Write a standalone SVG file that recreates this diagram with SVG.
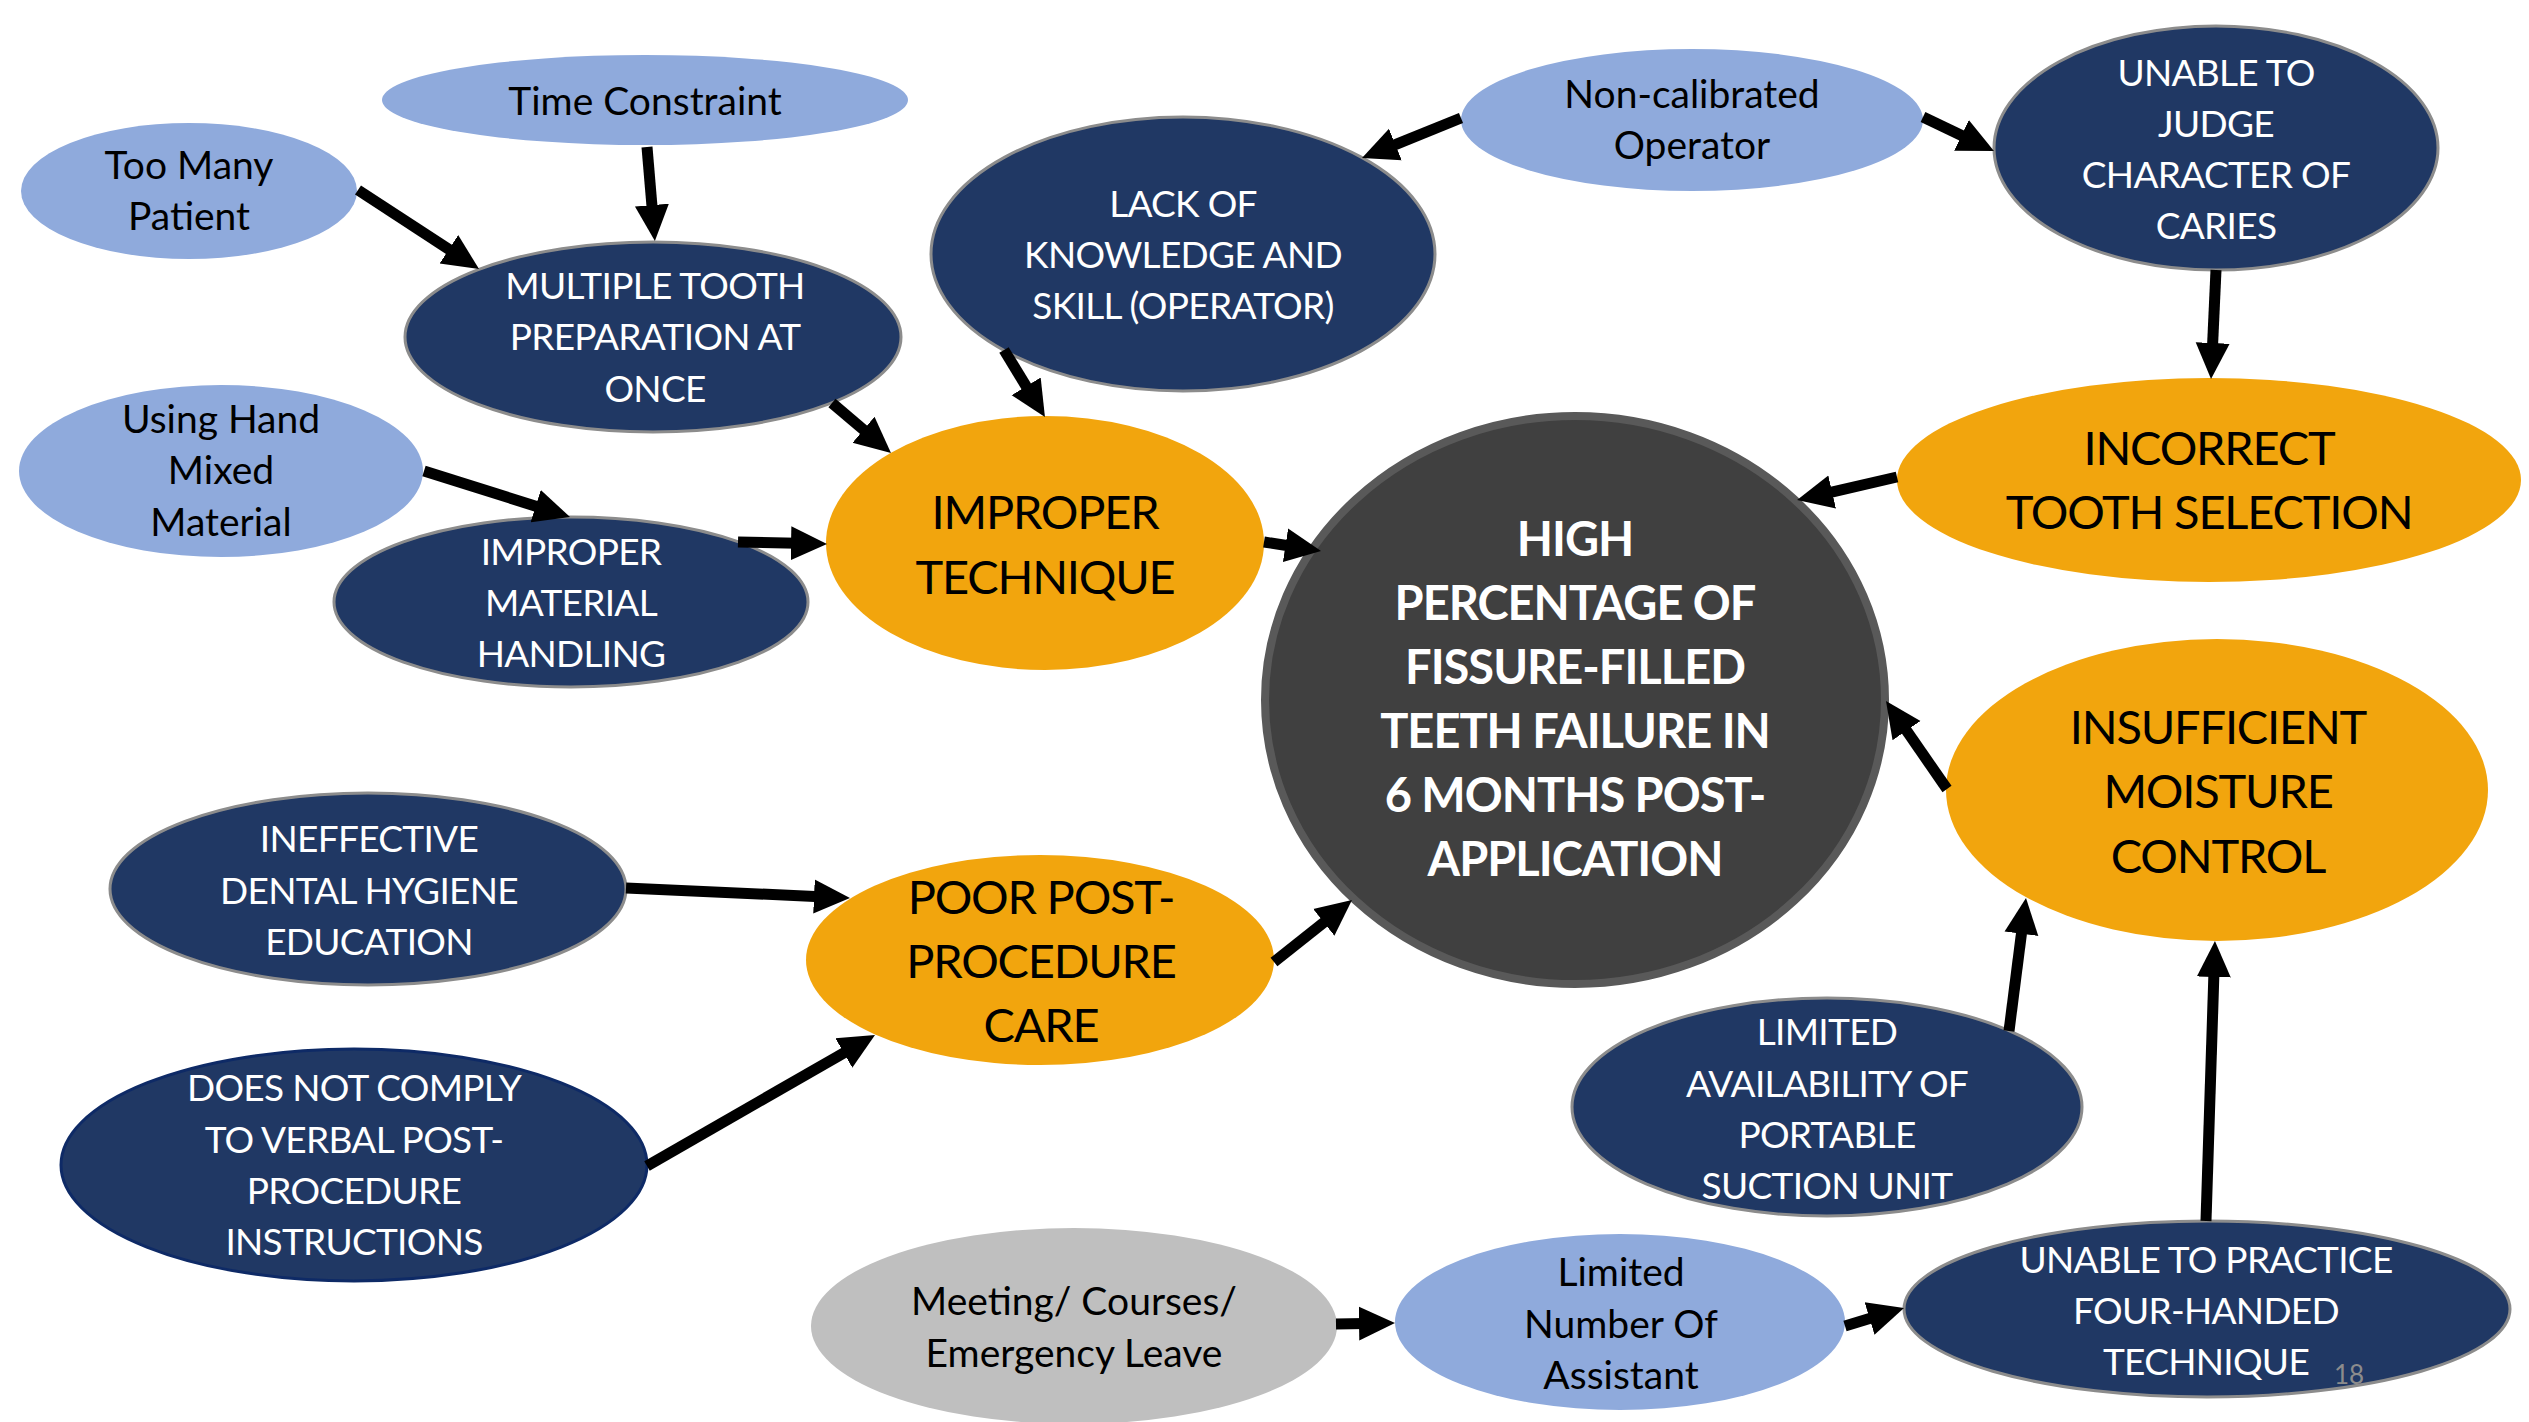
<svg xmlns="http://www.w3.org/2000/svg" width="2529" height="1422" viewBox="0 0 2529 1422">
  <defs>
    <marker id="head" viewBox="0 -18 36 36" markerWidth="36" markerHeight="36" refX="6" refY="0" orient="auto" markerUnits="userSpaceOnUse">
      <path d="M0,-17 L36,0 L0,17 Z" fill="#000"/>
    </marker>
  </defs>
  <style>
    text { font-family: Lato, "Open Sans", "Liberation Sans", sans-serif; text-anchor: middle; }
    .light { fill: #8FAADC; }
    .navy { fill: #203864; stroke: #8C8C8C; stroke-width: 3; }
    .orange { fill: #F2A50D; }
    .grey { fill: #BFBFBF; }
    .core { fill: #404040; stroke: #595959; stroke-width: 8; }
    .t-light { font-size: 39px; fill: #000; }
    .t-navy { font-size: 37px; letter-spacing: -0.7px; fill: #fff; }
    .t-orange { font-size: 47px; letter-spacing: -1.2px; fill: #000; }
    .t-core { font-size: 47px; letter-spacing: -1px; font-weight: bold; fill: #fff; }
    .arrows line { stroke: #000; stroke-width: 11; marker-end: url(#head); }
  </style>
  <rect width="2529" height="1422" fill="#fff"/>

  <!-- causes feeding IMPROPER TECHNIQUE -->
  <g id="time-constraint">
    <ellipse class="light" cx="645" cy="100" rx="263" ry="45"/>
    <text class="t-light" x="645" y="115">Time Constraint</text>
  </g>
  <g id="too-many-patient">
    <ellipse class="light" cx="189" cy="191" rx="168" ry="68"/>
    <text class="t-light" x="189" y="179">Too Many</text>
    <text class="t-light" x="189" y="230">Patient</text>
  </g>
  <g id="multiple-tooth">
    <ellipse class="navy" cx="653" cy="337" rx="248" ry="95"/>
    <text class="t-navy" x="655" y="299">MULTIPLE TOOTH</text>
    <text class="t-navy" x="655" y="350">PREPARATION AT</text>
    <text class="t-navy" x="655" y="402">ONCE</text>
  </g>
  <g id="hand-mixed">
    <ellipse class="light" cx="221" cy="471" rx="202" ry="86"/>
    <text class="t-light" x="221" y="433">Using Hand</text>
    <text class="t-light" x="221" y="484">Mixed</text>
    <text class="t-light" x="221" y="536">Material</text>
  </g>
  <g id="material-handling">
    <ellipse class="navy" cx="571" cy="602" rx="237" ry="85"/>
    <text class="t-navy" x="571" y="565">IMPROPER</text>
    <text class="t-navy" x="571" y="616">MATERIAL</text>
    <text class="t-navy" x="571" y="667">HANDLING</text>
  </g>
  <g id="improper-technique">
    <ellipse class="orange" cx="1045" cy="543" rx="219" ry="127"/>
    <text class="t-orange" x="1045" y="529">IMPROPER</text>
    <text class="t-orange" x="1045" y="594">TECHNIQUE</text>
  </g>
  <g id="lack-of-knowledge">
    <ellipse class="navy" cx="1183" cy="254" rx="252" ry="137"/>
    <text class="t-navy" x="1183" y="217">LACK OF</text>
    <text class="t-navy" x="1183" y="268">KNOWLEDGE AND</text>
    <text class="t-navy" x="1183" y="319">SKILL (OPERATOR)</text>
  </g>

  <!-- causes feeding INCORRECT TOOTH SELECTION -->
  <g id="non-calibrated">
    <ellipse class="light" cx="1692" cy="120" rx="231" ry="71"/>
    <text class="t-light" x="1692" y="108">Non-calibrated</text>
    <text class="t-light" x="1692" y="159">Operator</text>
  </g>
  <g id="unable-to-judge">
    <ellipse class="navy" cx="2216" cy="148" rx="222" ry="122"/>
    <text class="t-navy" x="2216" y="86">UNABLE TO</text>
    <text class="t-navy" x="2216" y="137">JUDGE</text>
    <text class="t-navy" x="2216" y="188">CHARACTER OF</text>
    <text class="t-navy" x="2216" y="239">CARIES</text>
  </g>
  <g id="incorrect-selection">
    <ellipse class="orange" cx="2209" cy="480" rx="312" ry="102"/>
    <text class="t-orange" x="2209" y="465">INCORRECT</text>
    <text class="t-orange" x="2209" y="529">TOOTH SELECTION</text>
  </g>

  <!-- central problem -->
  <g id="core-problem">
    <ellipse class="core" cx="1575" cy="700" rx="310" ry="284"/>
    <text class="t-core" x="1575" y="556">HIGH</text>
    <text class="t-core" x="1575" y="620">PERCENTAGE OF</text>
    <text class="t-core" x="1575" y="684">FISSURE-FILLED</text>
    <text class="t-core" x="1575" y="748">TEETH FAILURE IN</text>
    <text class="t-core" x="1575" y="812">6 MONTHS POST-</text>
    <text class="t-core" x="1575" y="876">APPLICATION</text>
  </g>

  <!-- causes feeding INSUFFICIENT MOISTURE CONTROL -->
  <g id="moisture-control">
    <ellipse class="orange" cx="2217" cy="790" rx="271" ry="151"/>
    <text class="t-orange" x="2218" y="744">INSUFFICIENT</text>
    <text class="t-orange" x="2218" y="808">MOISTURE</text>
    <text class="t-orange" x="2218" y="873">CONTROL</text>
  </g>
  <g id="suction-unit">
    <ellipse class="navy" cx="1827" cy="1107" rx="255" ry="109"/>
    <text class="t-navy" x="1827" y="1045">LIMITED</text>
    <text class="t-navy" x="1827" y="1097">AVAILABILITY OF</text>
    <text class="t-navy" x="1827" y="1148">PORTABLE</text>
    <text class="t-navy" x="1827" y="1199">SUCTION UNIT</text>
  </g>
  <g id="four-handed">
    <ellipse class="navy" cx="2207" cy="1309" rx="303" ry="88"/>
    <text class="t-navy" x="2206" y="1273">UNABLE TO PRACTICE</text>
    <text class="t-navy" x="2206" y="1324">FOUR-HANDED</text>
    <text class="t-navy" x="2206" y="1375">TECHNIQUE</text>
  </g>
  <g id="limited-assistant">
    <ellipse class="light" cx="1620" cy="1322" rx="225" ry="88"/>
    <text class="t-light" x="1621" y="1286">Limited</text>
    <text class="t-light" x="1621" y="1338">Number Of</text>
    <text class="t-light" x="1621" y="1389">Assistant</text>
  </g>
  <g id="meeting-leave">
    <ellipse class="grey" cx="1074" cy="1326" rx="263" ry="98"/>
    <text class="t-light" x="1074" y="1315">Meeting/ Courses/</text>
    <text class="t-light" x="1074" y="1367">Emergency Leave</text>
  </g>

  <!-- causes feeding POOR POST-PROCEDURE CARE -->
  <g id="hygiene-education">
    <ellipse class="navy" cx="368" cy="889" rx="258" ry="96"/>
    <text class="t-navy" x="369" y="852">INEFFECTIVE</text>
    <text class="t-navy" x="369" y="904">DENTAL HYGIENE</text>
    <text class="t-navy" x="369" y="955">EDUCATION</text>
  </g>
  <g id="not-comply">
    <ellipse cx="354" cy="1165" rx="293" ry="116" fill="#203864" stroke="#0E2A66" stroke-width="3"/>
    <text class="t-navy" x="354" y="1101">DOES NOT COMPLY</text>
    <text class="t-navy" x="354" y="1153">TO VERBAL POST-</text>
    <text class="t-navy" x="354" y="1204">PROCEDURE</text>
    <text class="t-navy" x="354" y="1255">INSTRUCTIONS</text>
  </g>
  <g id="post-procedure-care">
    <ellipse class="orange" cx="1040" cy="960" rx="234" ry="105"/>
    <text class="t-orange" x="1041" y="914">POOR POST-</text>
    <text class="t-orange" x="1041" y="978">PROCEDURE</text>
    <text class="t-orange" x="1041" y="1042">CARE</text>
  </g>

  <!-- slide number -->
  <text x="2349" y="1384" font-size="26" fill="#8C8C8C">18</text>

  <!-- connectors: each line ends short of its tip, the marker supplies the head -->
  <g id="connectors" class="arrows">
    <line x1="358" y1="190" x2="453.9" y2="252.6"/>
    <line x1="647" y1="147" x2="652.4" y2="211.1"/>
    <line x1="832" y1="403" x2="868.1" y2="433.6"/>
    <line x1="424" y1="471" x2="541.4" y2="508"/>
    <line x1="738" y1="542" x2="797" y2="543.3"/>
    <line x1="1004" y1="350" x2="1029.3" y2="391.4"/>
    <line x1="1461" y1="118" x2="1389.8" y2="146.8"/>
    <line x1="1923" y1="117" x2="1966.9" y2="138"/>
    <line x1="2216" y1="270" x2="2212.4" y2="349"/>
    <line x1="1897" y1="477" x2="1826.3" y2="493.3"/>
    <line x1="1264" y1="542" x2="1291.4" y2="546.3"/>
    <line x1="1947" y1="789" x2="1903.1" y2="725.7"/>
    <line x1="1274" y1="962" x2="1328.5" y2="918.7"/>
    <line x1="626" y1="888" x2="820" y2="896.7"/>
    <line x1="647" y1="1166" x2="849" y2="1049.9"/>
    <line x1="2009" y1="1031" x2="2022.2" y2="927.8"/>
    <line x1="2206" y1="1221" x2="2214" y2="971"/>
    <line x1="1336" y1="1324" x2="1365" y2="1323.5"/>
    <line x1="1845" y1="1326" x2="1875.3" y2="1316.8"/>
  </g>
</svg>
